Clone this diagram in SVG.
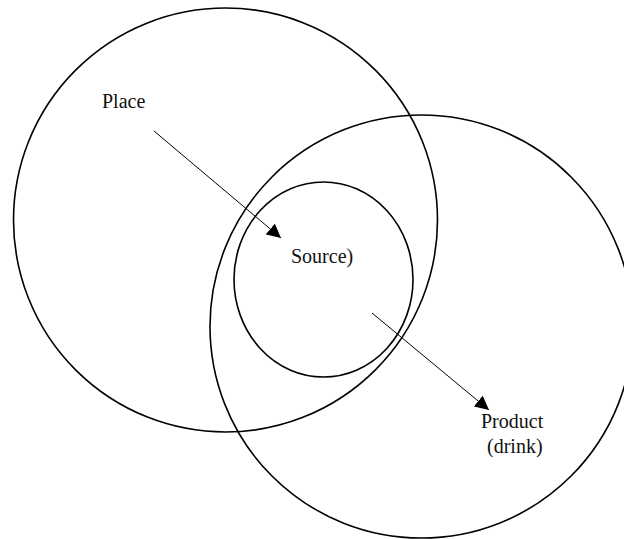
<svg xmlns="http://www.w3.org/2000/svg" width="624" height="539" viewBox="0 0 624 539">
  <style>
    .ring { fill: none; stroke: #000; stroke-width: 1.6; }
    .link { fill: none; stroke: #000; stroke-width: 1; }
    .label { font-family: "Liberation Serif", "Times New Roman", serif; font-size: 20px; fill: #111; }
  </style>
  <defs>
    <marker id="arrow" viewBox="0 0 10 10" refX="10" refY="5" markerWidth="14" markerHeight="14" markerUnits="userSpaceOnUse" orient="auto">
      <path d="M0,0 L10,5 L0,10 z" fill="#000"/>
    </marker>
  </defs>
  <rect width="624" height="539" fill="#fff"/>

  <g id="place">
    <circle class="ring" cx="225.5" cy="220" r="212"/>
    <text class="label" x="102" y="108">Place</text>
  </g>

  <g id="product">
    <circle class="ring" cx="421.5" cy="326.5" r="211.5"/>
    <text class="label" x="481" y="428">Product</text>
    <text class="label" x="487" y="453">(drink)</text>
  </g>

  <g id="source">
    <ellipse class="ring" cx="323.5" cy="279.5" rx="89.5" ry="97.5"/>
    <text class="label" x="291" y="263">Source)</text>
  </g>

  <g id="connectors">
    <line class="link" x1="154" y1="131" x2="281" y2="238" marker-end="url(#arrow)"/>
    <line class="link" x1="372" y1="313" x2="489" y2="410" marker-end="url(#arrow)"/>
  </g>
</svg>
